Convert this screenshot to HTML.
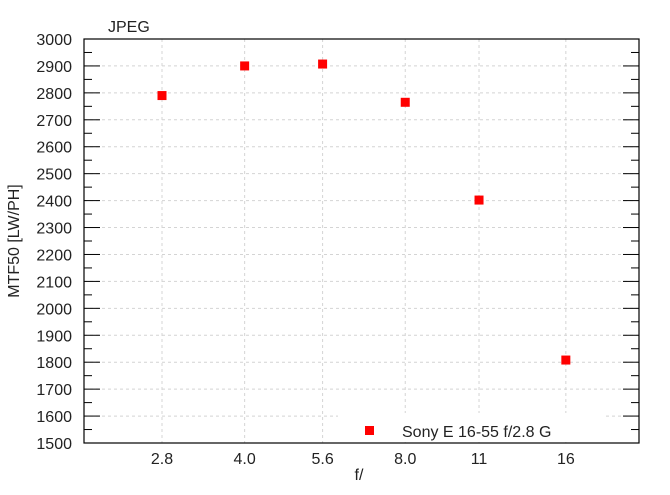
<!DOCTYPE html>
<html><head><meta charset="utf-8"><style>
body{margin:0;background:#fff;}
svg text{font-family:"Liberation Sans",sans-serif;font-size:16px;fill:#222;}
</style></head><body>
<svg id="c" width="670" height="490" xmlns="http://www.w3.org/2000/svg">
<rect width="670" height="490" fill="#fff"/>
<g id="grid"></g>
<rect x="338" y="413" width="266" height="29" fill="#fff"/>
<g id="marks"></g>
<rect x="84" y="39" width="555" height="404" fill="none" stroke="#000" stroke-width="1.2"/>
<g id="axes"></g>
<text x="108" y="32">JPEG</text>
<text x="359" y="480" text-anchor="middle">f/</text>
<text transform="translate(19,241) rotate(-90)" text-anchor="middle">MTF50 [LW/PH]</text>
<rect x="365" y="426" width="9" height="9" fill="#f00"/>
<text x="402" y="437">Sony E 16-55 f/2.8 G</text>
</svg>
<script>
const categories=[2.8,4.0,5.6,8.0,11,16];
const tickLabels=["2.8","4.0","5.6","8.0","11","16"];
const mtfValues=[2790,2900,2907,2765,2402,1808];
const yTicks=[1500,1600,1700,1800,1900,2000,2100,2200,2300,2400,2500,2600,2700,2800,2900,3000];
const NS="http://www.w3.org/2000/svg";
function y(v){return 443-(v-1500)/1500*404;}
function x(f){return 162+(Math.log2(f)-Math.log2(2.8))*160.6;}
function mk(t,a,p){const e=document.createElementNS(NS,t);for(const k in a)e.setAttribute(k,a[k]);p.appendChild(e);return e;}
const grid=document.getElementById('grid'),marks=document.getElementById('marks'),axes=document.getElementById('axes');
yTicks.forEach(v=>{
 if(v>1500&&v<3000){const g=mk('line',{x1:84,x2:639,y1:y(v),y2:y(v),stroke:'#d4d4d4','stroke-dasharray':'3,3'},grid);
 
 }
 const t=mk('line',{x1:84,x2:100,y1:y(v),y2:y(v),stroke:'#000'},axes);
 
 
 const t2=mk('line',{x1:623,x2:639,y1:y(v),y2:y(v),stroke:'#000'},axes);
 
 
 if(v<3000){[84,631].forEach(xx=>{const m=mk('line',{x1:xx,x2:xx+8,y1:y(v+50),y2:y(v+50),stroke:'#000'},axes);
 
 });}
 const l=mk('text',{x:72,y:y(v)+6,'text-anchor':'end'},axes);l.textContent=v;
 
 
});
categories.forEach((f,i)=>{
 const g=mk('line',{x1:x(f),x2:x(f),y1:39,y2:443,stroke:'#d4d4d4','stroke-dasharray':'3,3'},grid);
 
 
 const l=mk('text',{x:x(f),y:464,'text-anchor':'middle'},axes);l.textContent=tickLabels[i];
 
 
 const p=mk('rect',{x:x(f)-4.5,y:y(mtfValues[i])-4.5,width:9,height:9,fill:'#f00'},marks);
 
 
});
</script>
</body></html>
